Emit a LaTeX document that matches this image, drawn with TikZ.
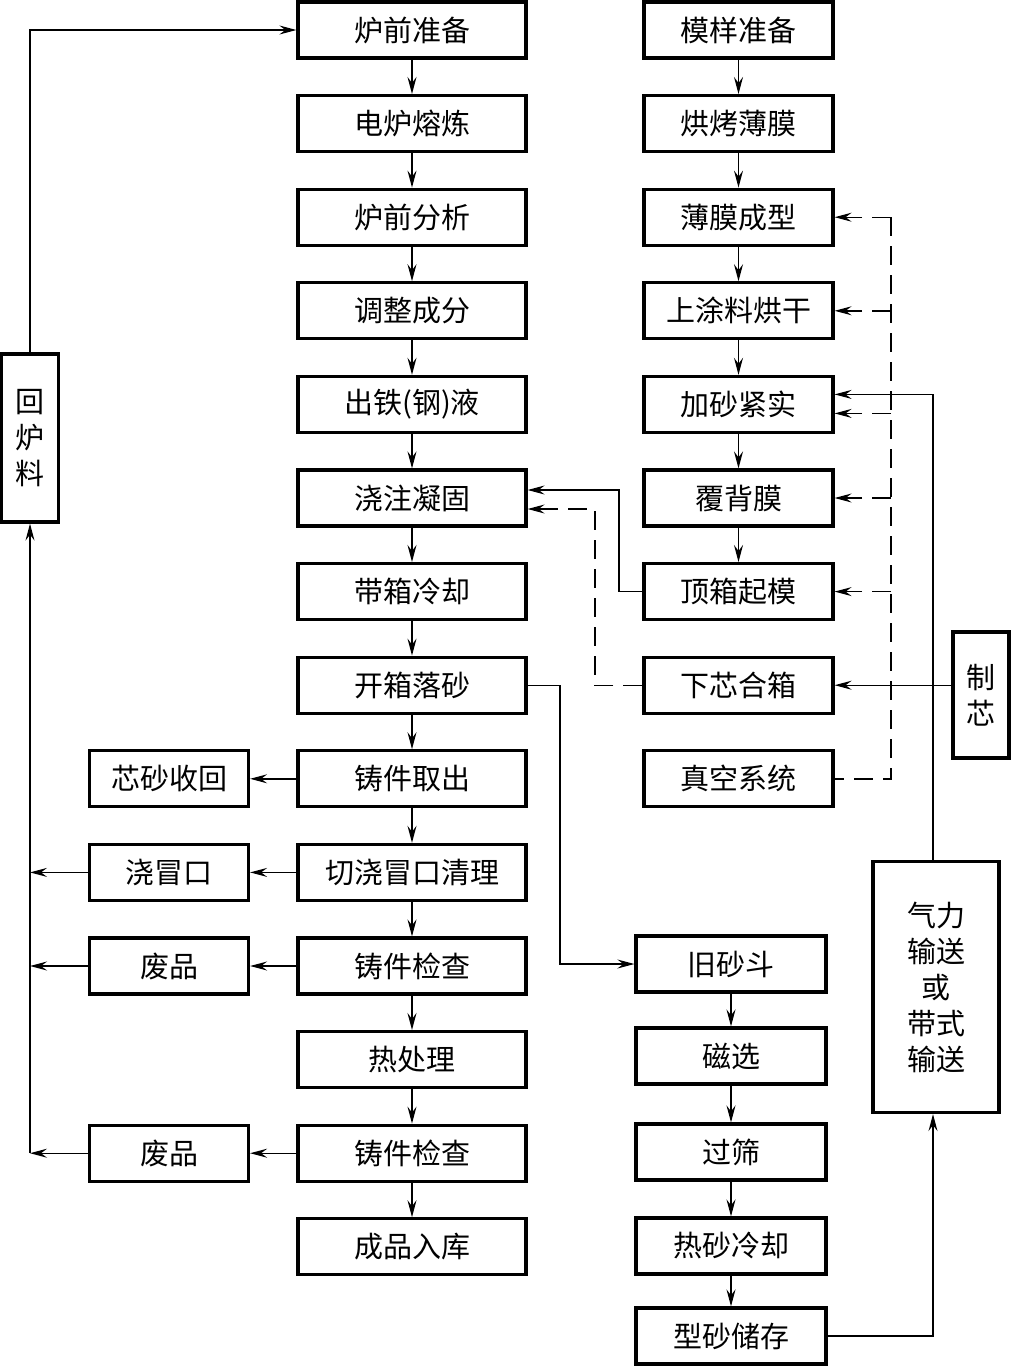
\documentclass[tikz,border=0pt]{standalone}
\usepackage{fontspec}
\setmainfont{Noto Sans CJK SC}
\usetikzlibrary{arrows.meta}
\begin{document}
\begin{tikzpicture}[x=1pt,y=-1pt,
  bx/.style={draw,line width=3.2pt,minimum height=56pt,inner sep=0pt,font=\fontsize{29}{34}\selectfont},
  mbox/.style={bx,minimum width=228pt},
  rbox/.style={bx,minimum width=189pt},
  sbox/.style={bx,minimum width=190pt},
  lbox/.style={bx,minimum width=159pt},
  vbx/.style={bx,align=center,font=\fontsize{29}{36}\selectfont},
  conn/.style={line width=1.4pt},
  arr/.style={conn,-{Stealth[length=17pt,width=9pt,inset=6pt]}},
  dsh/.style={conn,dash pattern=on 19pt off 10pt},
  darr/.style={dsh,-{Stealth[length=17pt,width=9pt,inset=6pt]}},
]
\fill[white] (0,0) rectangle (1011,1366);
\useasboundingbox (0,0) rectangle (1011,1366);

% main column
\node[mbox] (m0) at (412,30) {炉前准备};
\node[mbox] (m1) at (412,123.6) {电炉熔炼};
\node[mbox] (m2) at (412,217.2) {炉前分析};
\node[mbox] (m3) at (412,310.8) {调整成分};
\node[mbox] (m4) at (412,404.4) {出铁(钢)液};
\node[mbox] (m5) at (412,498) {浇注凝固};
\node[mbox] (m6) at (412,591.6) {带箱冷却};
\node[mbox] (m7) at (412,685.2) {开箱落砂};
\node[mbox] (m8) at (412,778.8) {铸件取出};
\node[mbox] (m9) at (412,872.4) {切浇冒口清理};
\node[mbox] (m10) at (412,966) {铸件检查};
\node[mbox] (m11) at (412,1059.6) {热处理};
\node[mbox] (m12) at (412,1153.2) {铸件检查};
\node[mbox] (m13) at (412,1246.8) {成品入库};

% right column
\node[rbox] (r0) at (738.5,30) {模样准备};
\node[rbox] (r1) at (738.5,123.6) {烘烤薄膜};
\node[rbox] (r2) at (738.5,217.2) {薄膜成型};
\node[rbox] (r3) at (738.5,310.8) {上涂料烘干};
\node[rbox] (r4) at (738.5,404.4) {加砂紧实};
\node[rbox] (r5) at (738.5,498) {覆背膜};
\node[rbox] (r6) at (738.5,591.6) {顶箱起模};
\node[rbox] (r7) at (738.5,685.2) {下芯合箱};
\node[rbox] (r8) at (738.5,778.8) {真空系统};

% sand column
\node[sbox] (s0) at (731,964) {旧砂斗};
\node[sbox] (s1) at (731,1056) {磁选};
\node[sbox] (s2) at (731,1152) {过筛};
\node[sbox] (s3) at (731,1246) {热砂冷却};
\node[sbox] (s4) at (731,1336) {型砂储存};

% left column
\node[lbox] (l0) at (169,778.8) {芯砂收回};
\node[lbox] (l1) at (169,872.4) {浇冒口};
\node[lbox] (l2) at (169,966) {废品};
\node[lbox] (l3) at (169,1153.2) {废品};

% vertical boxes
\node[vbx,minimum width=57pt,minimum height=168pt] (hl) at (30,438) {回\\炉\\料};
\node[vbx,minimum width=56pt,minimum height=126pt] (zx) at (981,695) {制\\芯};
\node[vbx,minimum width=126pt,minimum height=251pt] (qs) at (936,987) {气力\\输送\\或\\带式\\输送};

% helper coordinates
\coordinate (db) at (891,0);
\coordinate (lb) at (30,0);
\coordinate (kx) at (560,0);
\coordinate (qx) at (933,0);
\coordinate (sx) at (619,0);
\coordinate (dx) at (595,0);
\coordinate (m5a) at ([yshift=8pt]m5.east);
\coordinate (m5b) at ([yshift=-11pt]m5.east);
\coordinate (r4a) at ([yshift=10pt]r4.east);
\coordinate (r4b) at ([yshift=-9pt]r4.east);

% main vertical arrows
\foreach \a/\b in {m0/m1,m1/m2,m2/m3,m3/m4,m4/m5,m5/m6,m6/m7,m7/m8,m8/m9,m9/m10,m10/m11,m11/m12,m12/m13,
  r0/r1,r1/r2,r2/r3,r3/r4,r4/r5,r5/r6,s0/s1,s1/s2,s2/s3,s3/s4}
  \draw[arr] (\a) -- (\b);

% main to left boxes
\draw[arr] (m8) -- (l0);
\draw[arr] (m9) -- (l1);
\draw[arr] (m10) -- (l2);
\draw[arr] (m12) -- (l3);

% left return line
\draw[arr] (l1.west) -- (lb |- l1.west);
\draw[arr] (l2.west) -- (lb |- l2.west);
\draw[arr] (l3.west) -- (lb |- l3.west);
\draw[arr] (lb |- l3.west) -- (hl.south);
\draw[arr] (hl.north) |- (m0.west);

% dashed vacuum bus
\draw[dsh] (db |- r2.east) -- (db |- r8.east) -- (r8.east);
\draw[darr] (db |- r2.east) -- (r2.east);
\draw[darr] (db |- r3.east) -- (r3.east);
\draw[darr] (db |- r4b) -- (r4b);
\draw[darr] (db |- r5.east) -- (r5.east);
\draw[darr] (db |- r6.east) -- (r6.east);

% to pouring
\draw[arr] (r6.west) -- (sx |- r6.west) -- (sx |- m5a) -- (m5a);
\draw[darr] (r7.west) -- (dx |- r7.west) -- (dx |- m5b) -- (m5b);

% core making
\draw[arr] (zx.west |- r7.east) -- (r7.east);

% shakeout to old sand
\draw[arr] (m7.east) -- (kx |- m7.east) -- (kx |- s0.west) -- (s0.west);

% sand return
\draw[arr] (s4.east) -- (qx |- s4.east) -- (qx |- qs.south);
\draw[arr] (qx |- qs.north) -- (qx |- r4a) -- (r4a);
\end{tikzpicture}
\end{document}
